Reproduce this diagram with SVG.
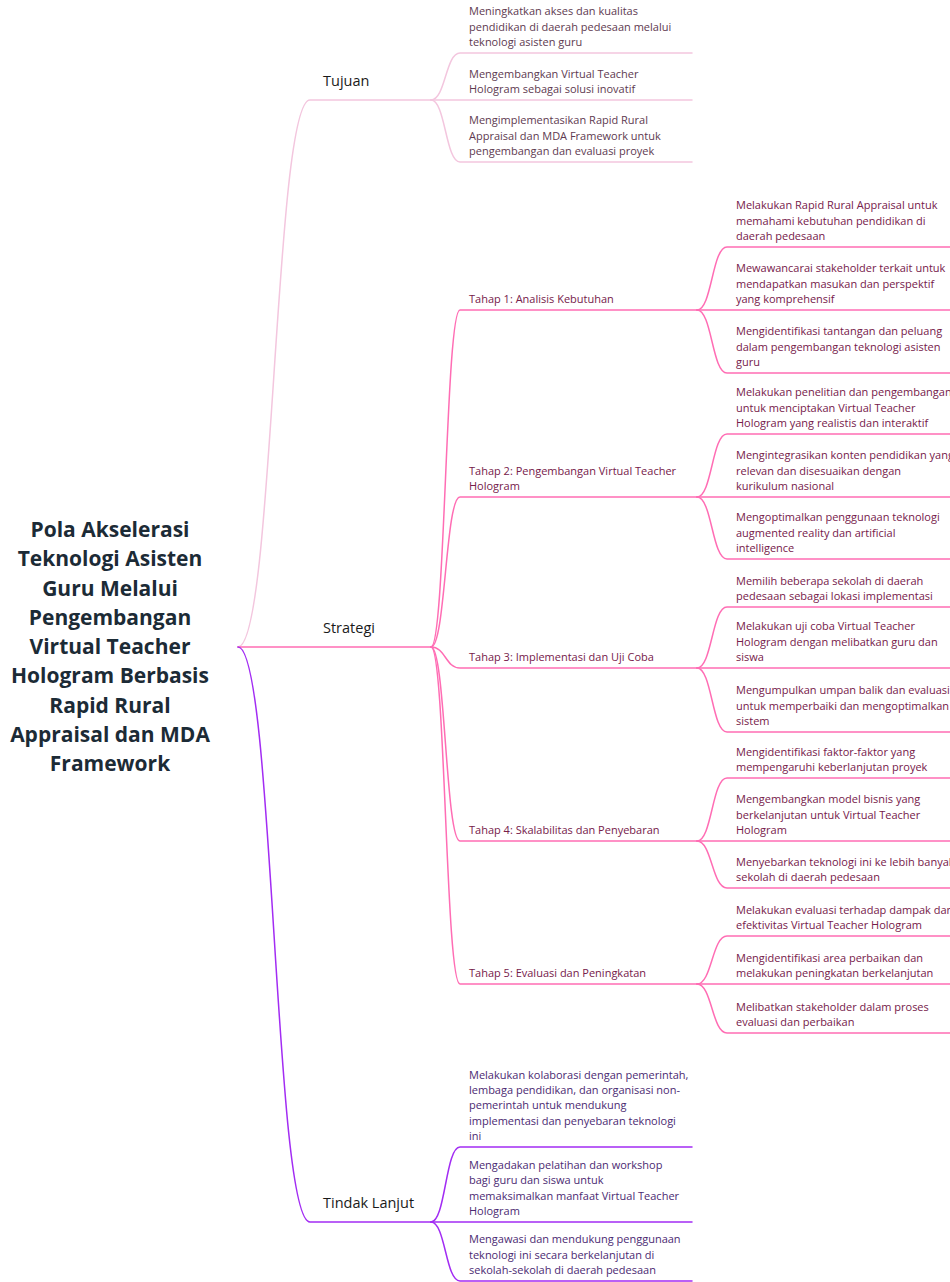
<svg xmlns="http://www.w3.org/2000/svg" width="950" height="1282" viewBox="0 0 950 1282">
<style>
.title{font-family:"Open Sans","Noto Sans",sans-serif;font-size:21px;font-weight:700;fill:#1c2b36;text-anchor:middle}
.br{font-family:"Open Sans","Noto Sans",sans-serif;font-size:14.5px;font-weight:500;fill:#1a1a1a}
.tx{font-family:"Open Sans","Noto Sans",sans-serif;font-size:11px}
.tu{fill:#5e3a50}
.ts{fill:#76204a}
.tt{fill:#4b2a72}
.c{fill:none;stroke-width:1.5;stroke-linecap:round}
.cu{stroke:#f3c6de}
.cs{stroke:#ff6db4}
.ct{stroke:#a22cf3}
</style>
<rect width="950" height="1282" fill="#ffffff"/>
<g id="connectors">
<path class="c cu" d="M238,647 C274,647 274,100 310,100 H431"/>
<path class="c cs" d="M238,647 H431"/>
<path class="c ct" d="M238,647 C274,647 274,1222 310,1222 H431"/>
<path class="c cu" d="M431,100 C445.5,100 445.5,53 460,53 H692"/>
<path class="c cu" d="M431,100 H692"/>
<path class="c cu" d="M431,100 C445.5,100 445.5,162 460,162 H692"/>
<path class="c cs" d="M431,647 C445.5,647 445.5,310 460,310 H697"/>
<path class="c cs" d="M431,647 C445.5,647 445.5,497 460,497 H697"/>
<path class="c cs" d="M431,647 C445.5,647 445.5,668 460,668 H697"/>
<path class="c cs" d="M431,647 C445.5,647 445.5,841 460,841 H697"/>
<path class="c cs" d="M431,647 C445.5,647 445.5,984 460,984 H697"/>
<path class="c cs" d="M697,310 C712,310 712,247 727,247 H960"/>
<path class="c cs" d="M697,310 H960"/>
<path class="c cs" d="M697,310 C712,310 712,373 727,373 H960"/>
<path class="c cs" d="M697,497 C712,497 712,434 727,434 H960"/>
<path class="c cs" d="M697,497 H960"/>
<path class="c cs" d="M697,497 C712,497 712,559 727,559 H960"/>
<path class="c cs" d="M697,668 C712,668 712,607 727,607 H960"/>
<path class="c cs" d="M697,668 H960"/>
<path class="c cs" d="M697,668 C712,668 712,732 727,732 H960"/>
<path class="c cs" d="M697,841 C712,841 712,778 727,778 H960"/>
<path class="c cs" d="M697,841 H960"/>
<path class="c cs" d="M697,841 C712,841 712,888 727,888 H960"/>
<path class="c cs" d="M697,984 C712,984 712,936 727,936 H960"/>
<path class="c cs" d="M697,984 H960"/>
<path class="c cs" d="M697,984 C712,984 712,1033 727,1033 H960"/>
<path class="c ct" d="M431,1222 C445.5,1222 445.5,1147 460,1147 H692"/>
<path class="c ct" d="M431,1222 H692"/>
<path class="c ct" d="M431,1222 C445.5,1222 445.5,1281 460,1281 H692"/>
</g>
<g id="root">
<text class="title" x="110" y="537">Pola Akselerasi</text>
<text class="title" x="110" y="566.25">Teknologi Asisten</text>
<text class="title" x="110" y="595.5">Guru Melalui</text>
<text class="title" x="110" y="624.75">Pengembangan</text>
<text class="title" x="110" y="654">Virtual Teacher</text>
<text class="title" x="110" y="683.25">Hologram Berbasis</text>
<text class="title" x="110" y="712.5">Rapid Rural</text>
<text class="title" x="110" y="741.75">Appraisal dan MDA</text>
<text class="title" x="110" y="771">Framework</text>
</g>
<g id="tujuan"><text class="br" x="323" y="86">Tujuan</text></g>
<g id="strategi"><text class="br" x="323" y="633">Strategi</text></g>
<g id="tindak-lanjut"><text class="br" x="323" y="1208">Tindak Lanjut</text></g>
<g id="tujuan-1"><text class="tx tu" y="15.3"><tspan x="469">Meningkatkan akses dan kualitas</tspan><tspan x="469" dy="15.2">pendidikan di daerah pedesaan melalui</tspan><tspan x="469" dy="15.2">teknologi asisten guru</tspan></text></g>
<g id="tujuan-2"><text class="tx tu" y="77.5"><tspan x="469">Mengembangkan Virtual Teacher</tspan><tspan x="469" dy="15.2">Hologram sebagai solusi inovatif</tspan></text></g>
<g id="tujuan-3"><text class="tx tu" y="124.3"><tspan x="469">Mengimplementasikan Rapid Rural</tspan><tspan x="469" dy="15.2">Appraisal dan MDA Framework untuk</tspan><tspan x="469" dy="15.2">pengembangan dan evaluasi proyek</tspan></text></g>
<g id="tahap-1"><text class="tx ts" x="469" y="302.7">Tahap 1: Analisis Kebutuhan</text></g>
<g id="tahap-2"><text class="tx ts" y="474.5"><tspan x="469">Tahap 2: Pengembangan Virtual Teacher</tspan><tspan x="469" dy="15.2">Hologram</tspan></text></g>
<g id="tahap-3"><text class="tx ts" x="469" y="660.7">Tahap 3: Implementasi dan Uji Coba</text></g>
<g id="tahap-4"><text class="tx ts" x="469" y="833.7">Tahap 4: Skalabilitas dan Penyebaran</text></g>
<g id="tahap-5"><text class="tx ts" x="469" y="976.7">Tahap 5: Evaluasi dan Peningkatan</text></g>
<g id="t1a"><text class="tx ts" y="209.3"><tspan x="736">Melakukan Rapid Rural Appraisal untuk</tspan><tspan x="736" dy="15.2">memahami kebutuhan pendidikan di</tspan><tspan x="736" dy="15.2">daerah pedesaan</tspan></text></g>
<g id="t1b"><text class="tx ts" y="272.3"><tspan x="736">Mewawancarai stakeholder terkait untuk</tspan><tspan x="736" dy="15.2">mendapatkan masukan dan perspektif</tspan><tspan x="736" dy="15.2">yang komprehensif</tspan></text></g>
<g id="t1c"><text class="tx ts" y="335.3"><tspan x="736">Mengidentifikasi tantangan dan peluang</tspan><tspan x="736" dy="15.2">dalam pengembangan teknologi asisten</tspan><tspan x="736" dy="15.2">guru</tspan></text></g>
<g id="t2a"><text class="tx ts" y="396.3"><tspan x="736">Melakukan penelitian dan pengembangan</tspan><tspan x="736" dy="15.2">untuk menciptakan Virtual Teacher</tspan><tspan x="736" dy="15.2">Hologram yang realistis dan interaktif</tspan></text></g>
<g id="t2b"><text class="tx ts" y="459.3"><tspan x="736">Mengintegrasikan konten pendidikan yang</tspan><tspan x="736" dy="15.2">relevan dan disesuaikan dengan</tspan><tspan x="736" dy="15.2">kurikulum nasional</tspan></text></g>
<g id="t2c"><text class="tx ts" y="521.3"><tspan x="736">Mengoptimalkan penggunaan teknologi</tspan><tspan x="736" dy="15.2">augmented reality dan artificial</tspan><tspan x="736" dy="15.2">intelligence</tspan></text></g>
<g id="t3a"><text class="tx ts" y="584.5"><tspan x="736">Memilih beberapa sekolah di daerah</tspan><tspan x="736" dy="15.2">pedesaan sebagai lokasi implementasi</tspan></text></g>
<g id="t3b"><text class="tx ts" y="630.3"><tspan x="736">Melakukan uji coba Virtual Teacher</tspan><tspan x="736" dy="15.2">Hologram dengan melibatkan guru dan</tspan><tspan x="736" dy="15.2">siswa</tspan></text></g>
<g id="t3c"><text class="tx ts" y="694.3"><tspan x="736">Mengumpulkan umpan balik dan evaluasi</tspan><tspan x="736" dy="15.2">untuk memperbaiki dan mengoptimalkan</tspan><tspan x="736" dy="15.2">sistem</tspan></text></g>
<g id="t4a"><text class="tx ts" y="755.5"><tspan x="736">Mengidentifikasi faktor-faktor yang</tspan><tspan x="736" dy="15.2">mempengaruhi keberlanjutan proyek</tspan></text></g>
<g id="t4b"><text class="tx ts" y="803.3"><tspan x="736">Mengembangkan model bisnis yang</tspan><tspan x="736" dy="15.2">berkelanjutan untuk Virtual Teacher</tspan><tspan x="736" dy="15.2">Hologram</tspan></text></g>
<g id="t4c"><text class="tx ts" y="865.5"><tspan x="736">Menyebarkan teknologi ini ke lebih banyak</tspan><tspan x="736" dy="15.2">sekolah di daerah pedesaan</tspan></text></g>
<g id="t5a"><text class="tx ts" y="913.5"><tspan x="736">Melakukan evaluasi terhadap dampak dan</tspan><tspan x="736" dy="15.2">efektivitas Virtual Teacher Hologram</tspan></text></g>
<g id="t5b"><text class="tx ts" y="961.5"><tspan x="736">Mengidentifikasi area perbaikan dan</tspan><tspan x="736" dy="15.2">melakukan peningkatan berkelanjutan</tspan></text></g>
<g id="t5c"><text class="tx ts" y="1010.5"><tspan x="736">Melibatkan stakeholder dalam proses</tspan><tspan x="736" dy="15.2">evaluasi dan perbaikan</tspan></text></g>
<g id="tl-1"><text class="tx tt" y="1078.9"><tspan x="469">Melakukan kolaborasi dengan pemerintah,</tspan><tspan x="469" dy="15.2">lembaga pendidikan, dan organisasi non-</tspan><tspan x="469" dy="15.2">pemerintah untuk mendukung</tspan><tspan x="469" dy="15.2">implementasi dan penyebaran teknologi</tspan><tspan x="469" dy="15.2">ini</tspan></text></g>
<g id="tl-2"><text class="tx tt" y="1169.1"><tspan x="469">Mengadakan pelatihan dan workshop</tspan><tspan x="469" dy="15.2">bagi guru dan siswa untuk</tspan><tspan x="469" dy="15.2">memaksimalkan manfaat Virtual Teacher</tspan><tspan x="469" dy="15.2">Hologram</tspan></text></g>
<g id="tl-3"><text class="tx tt" y="1243.3"><tspan x="469">Mengawasi dan mendukung penggunaan</tspan><tspan x="469" dy="15.2">teknologi ini secara berkelanjutan di</tspan><tspan x="469" dy="15.2">sekolah-sekolah di daerah pedesaan</tspan></text></g>
</svg>
